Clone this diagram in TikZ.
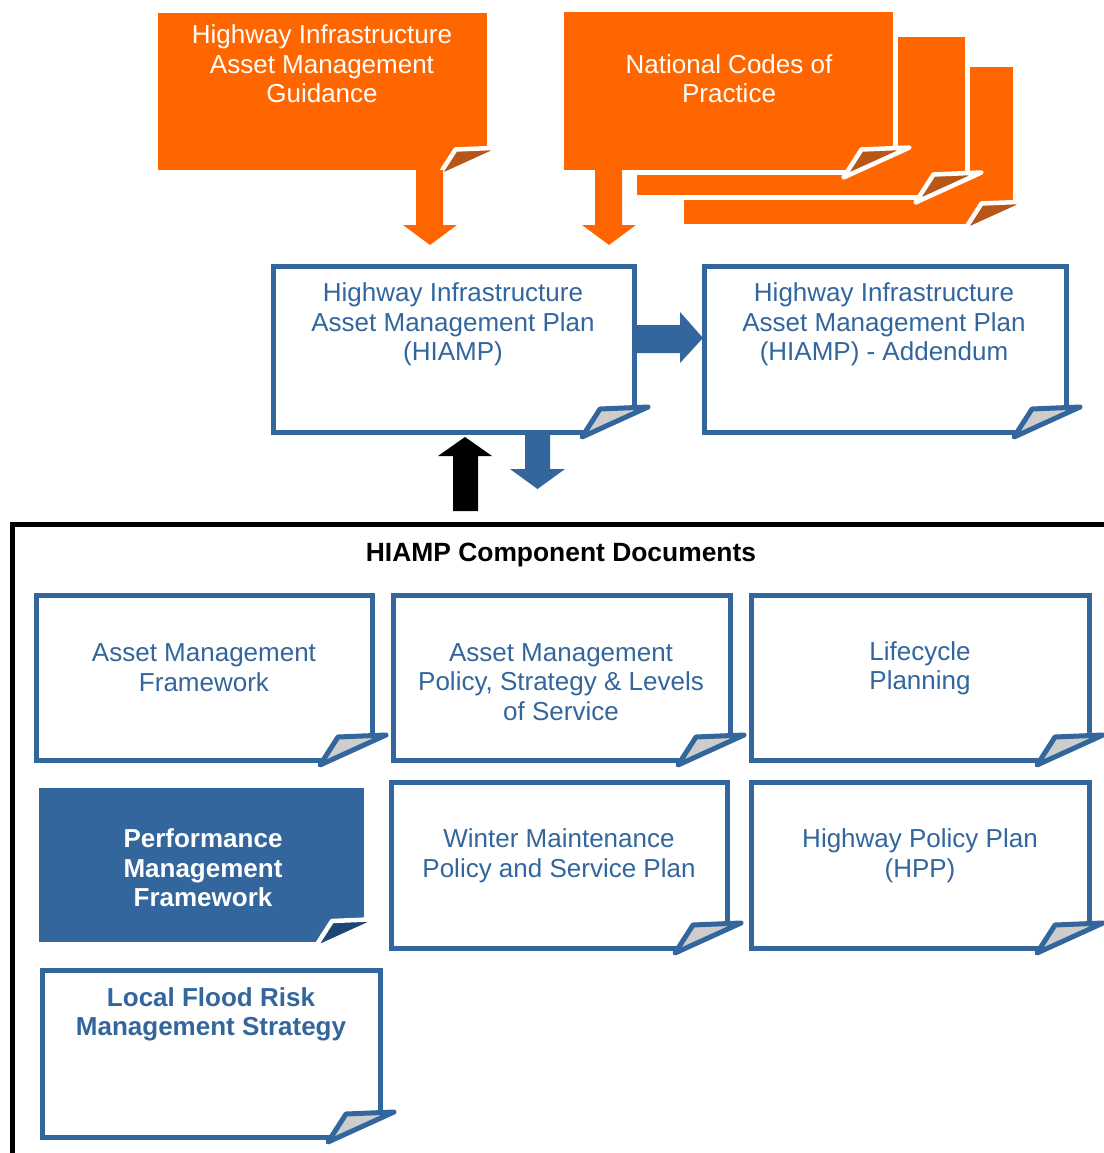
\documentclass[tikz,border=0pt]{standalone}
\usepackage{fontspec}
\setmainfont{Liberation Sans}
\usetikzlibrary{calc}
\definecolor{hblue}{RGB}{50,102,156}
\definecolor{horange}{RGB}{255,102,0}
\definecolor{hbrown}{RGB}{184,86,24}
\definecolor{hgrey}{RGB}{205,205,205}
\definecolor{hdarkblue}{RGB}{30,70,115}
% #1 x0 #2 y0 #3 x1 #4 y1 #5 fill #6 line #7 fold colour #8 line width
\newcommand\docpage[8]{%
  \fill[#5] (#1,#2) -- (#3,#2) -- (#3,#4-25) -- (#3-34,#4-23) -- (#3-50,#4) -- (#1,#4) -- cycle;
  \draw[#6, line width=#8, line join=miter] (#3-49,#4) -- (#1,#4) -- (#1,#2) -- (#3,#2) -- (#3,#4-25);
  \filldraw[fill=#7, draw=#6, line width=#8, line join=round] (#3-52,#4+5) -- (#3-34,#4-23) -- (#3+14,#4-25) -- cycle;
}
\tikzset{
  bodytext/.style={align=center, inner sep=0pt, font=\fontsize{26}{29.5}\selectfont},
  bluetext/.style={bodytext, text=hblue},
  whitetext/.style={bodytext, text=white},
  boldblue/.style={bluetext, font=\fontsize{26}{29.5}\selectfont\bfseries},
  boldwhite/.style={whitetext, font=\fontsize{26}{29.5}\selectfont\bfseries},
  titletext/.style={inner sep=0pt, font=\fontsize{26.4}{30}\selectfont\bfseries, text=black},
}
\begin{document}
\begin{tikzpicture}[x=1pt, y=-1pt]
\useasboundingbox (0,0) rectangle (1103,1153);
\fill[white] (0,0) rectangle (1103,1153);

% orange guidance sheet
\docpage{155.5}{10.5}{489.5}{172.5}{horange}{white}{hbrown}{4.5pt}
% national codes stack
\docpage{681.5}{64.5}{1015.5}{226.5}{horange}{white}{hbrown}{4.5pt}
\docpage{634.5}{34.5}{967.5}{197.5}{horange}{white}{hbrown}{4.5pt}
\docpage{561.5}{9.5}{895.5}{172.5}{horange}{white}{hbrown}{4.5pt}

\node[whitetext] (guid) at (322,64) {Highway Infrastructure\\Asset Management\\Guidance};
\node[whitetext] (codes) at (729,78.5) {National Codes of\\Practice};

% orange arrows
\fill[horange] (416,170) -- (443,170) -- (443,225) -- (457,225) -- (430,245) -- (403,225) -- (416,225) -- cycle;
\fill[horange] (595,170) -- (622,170) -- (622,225) -- (636,225) -- (609,245) -- (582,225) -- (595,225) -- cycle;

% HIAMP boxes
\docpage{273}{266}{634}{432}{white}{hblue}{hgrey}{5pt}
\docpage{704}{266}{1066}{432}{white}{hblue}{hgrey}{5pt}
\node[bluetext] (hiamp) at (453,324.5) {Highway Infrastructure\\Asset Management Plan\\(HIAMP)};
\node[bluetext] (add) at (884,324.5) {Highway Infrastructure\\Asset Management Plan\\(HIAMP) - Addendum};

% blue right arrow
\fill[hblue] (634,325) -- (680,325) -- (680,312) -- (703,338) -- (680,363) -- (680,353) -- (634,353) -- cycle;
% blue down arrow
\fill[hblue] (525,432) -- (550,432) -- (550,469) -- (565,469) -- (537.5,489) -- (510,469) -- (525,469) -- cycle;
% black up arrow
\fill[black] (453,511) -- (478,511) -- (478,456) -- (492,456) -- (465,437) -- (438,456) -- (453,456) -- cycle;

% component frame
\draw[line width=5pt] (1110,524.5) -- (12,524.5) -- (12,1160);
\node[titletext] (title) at (561,555) {HIAMP Component Documents};

% row 1
\docpage{36}{595}{372}{760}{white}{hblue}{hgrey}{5pt}
\docpage{393}{595}{730}{760}{white}{hblue}{hgrey}{5pt}
\docpage{751}{595}{1089}{760}{white}{hblue}{hgrey}{5pt}
\node[bluetext] (amf) at (204,667.5) {Asset Management\\Framework};
\node[bluetext] (amp) at (561,682) {Asset Management\\Policy, Strategy \& Levels\\of Service};
\node[bluetext] (lcp) at (920,668.5) {Lifecycle\\Planning};

% row 2
\docpage{37}{786}{366}{944}{hblue}{white}{hdarkblue}{4.5pt}
\docpage{391}{782}{727}{948}{white}{hblue}{hgrey}{5pt}
\docpage{751}{782}{1089}{948}{white}{hblue}{hgrey}{5pt}
\node[boldwhite] (pmf) at (203,868) {Performance\\Management\\Framework};
\node[bluetext] (wmp) at (559,856) {Winter Maintenance\\Policy and Service Plan};
\node[bluetext] (hpp) at (920,856) {Highway Policy Plan\\(HPP)};

% row 3
\docpage{42}{970}{380}{1137}{white}{hblue}{hgrey}{5pt}
\node[boldblue] (lfr) at (211,1014.5) {Local Flood Risk\\Management Strategy};
\end{tikzpicture}
\end{document}
